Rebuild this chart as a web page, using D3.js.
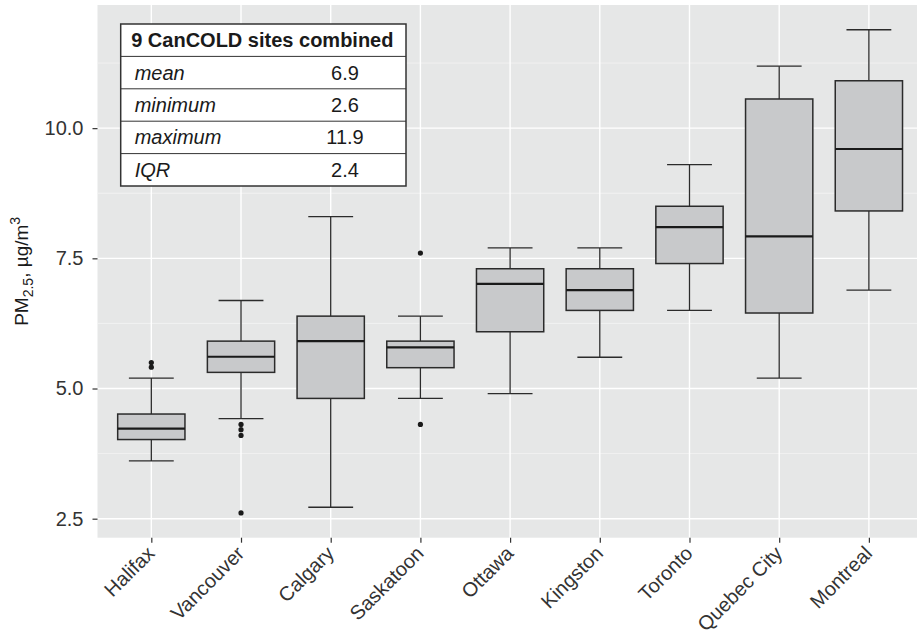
<!DOCTYPE html>
<html lang="en">
<head>
<meta charset="UTF-8">
<title>PM2.5 by CanCOLD site</title>
<script src="https://cdnjs.cloudflare.com/ajax/libs/d3/7.8.5/d3.min.js"></script>
<style>
  body { margin: 0; background: #fff; }
  svg { display: block; font-family: "Liberation Sans", Arial, sans-serif; }
</style>
</head>
<body>
<div id="chart"></div>
<script>
// data
var cities = ["Halifax", "Vancouver", "Calgary", "Saskatoon", "Ottawa", "Kingston", "Toronto", "Quebec City", "Montreal"];
var whiskerLow = [3.61, 4.42, 2.72, 4.81, 4.90, 5.60, 6.50, 5.20, 6.89];
var q1 = [4.02, 5.31, 4.81, 5.40, 6.09, 6.50, 7.40, 6.45, 8.41];
var medians = [4.23, 5.61, 5.91, 5.79, 7.01, 6.89, 8.10, 7.92, 9.60];
var q3 = [4.51, 5.91, 6.39, 5.91, 7.30, 7.30, 8.50, 10.56, 10.91];
var whiskerHigh = [5.20, 6.69, 8.30, 6.39, 7.70, 7.70, 9.30, 11.19, 11.89];
var outliers = [[5.50, 5.41], [4.31, 4.21, 4.10, 2.61], [], [7.60, 4.31], [], [], [], [], []];

var yTicks = [2.5, 5.0, 7.5, 10.0];
var yMinor = [3.75, 6.25, 8.75, 11.25];

var tableTitle = "9 CanCOLD sites combined";
var statNames = ["mean", "minimum", "maximum", "IQR"];
var statValues = ["6.9", "2.6", "11.9", "2.4"];

var W = 917, H = 634;
var panel = { left: 97.5, right: 922.7, top: 5, bottom: 537.7 };
var font = "Liberation Sans, Arial, sans-serif";

var svg = d3.select("#chart").append("svg")
    .attr("width", W)
    .attr("height", H);

var x = d3.scalePoint()
    .domain(cities)
    .range([panel.left, panel.right])
    .padding(0.6);

var y = d3.scaleLinear()
    .domain([2.135, 12.365])
    .range([panel.bottom, panel.top]);

var step = x.step();

// panel background
svg.append("rect")
    .attr("x", panel.left)
    .attr("y", panel.top)
    .attr("width", panel.right - panel.left)
    .attr("height", panel.bottom - panel.top)
    .attr("fill", "#e6e7e7");

// grid lines
svg.selectAll(".minor")
    .data(yMinor)
    .enter().append("line")
    .attr("x1", panel.left).attr("x2", panel.right)
    .attr("y1", function(d) { return y(d); })
    .attr("y2", function(d) { return y(d); })
    .attr("stroke", "#f4f4f4")
    .attr("stroke-width", 0.8);

svg.selectAll(".major")
    .data(yTicks)
    .enter().append("line")
    .attr("x1", panel.left).attr("x2", panel.right)
    .attr("y1", function(d) { return y(d); })
    .attr("y2", function(d) { return y(d); })
    .attr("stroke", "#fff")
    .attr("stroke-width", 1.4);

svg.selectAll(".vgrid")
    .data(cities)
    .enter().append("line")
    .attr("x1", function(d) { return x(d); })
    .attr("x2", function(d) { return x(d); })
    .attr("y1", panel.top).attr("y2", panel.bottom)
    .attr("stroke", "#fff")
    .attr("stroke-width", 1.4);

// axes
var yAxis = d3.axisLeft(y)
    .tickValues(yTicks)
    .tickFormat(d3.format(".1f"))
    .tickSize(5)
    .tickPadding(9);

var gy = svg.append("g")
    .attr("transform", "translate(" + panel.left + ",0)")
    .call(yAxis);
gy.select(".domain").remove();
gy.selectAll(".tick line").attr("stroke", "#333").attr("stroke-width", 1.2);
gy.selectAll(".tick text").attr("font-size", 20).attr("fill", "#333")
    .attr("font-family", font);

var xAxis = d3.axisBottom(x)
    .tickSize(5)
    .tickPadding(4);

var gx = svg.append("g")
    .attr("transform", "translate(0," + panel.bottom + ")")
    .call(xAxis);
gx.select(".domain").remove();
gx.selectAll(".tick line").attr("stroke", "#333").attr("stroke-width", 1.2);
gx.selectAll(".tick text")
    .attr("font-size", 20)
    .attr("fill", "#333")
    .attr("font-family", font)
    .attr("text-anchor", "end")
    .attr("dy", null)
    .attr("y", 0)
    .attr("x", 0)
    .attr("transform", "translate(4,17) rotate(-45)");

// boxplots
var idx = d3.range(cities.length);
var boxW = step * 0.75, capW = step * 0.5;
var ink = "#2b2b2b";

var g = svg.append("g");

// whiskers
g.selectAll(".whisk-lo")
    .data(idx).enter().append("line")
    .attr("x1", function(i) { return x(cities[i]); })
    .attr("x2", function(i) { return x(cities[i]); })
    .attr("y1", function(i) { return y(q1[i]); })
    .attr("y2", function(i) { return y(whiskerLow[i]); })
    .attr("stroke", ink).attr("stroke-width", 1.3);

g.selectAll(".whisk-hi")
    .data(idx).enter().append("line")
    .attr("x1", function(i) { return x(cities[i]); })
    .attr("x2", function(i) { return x(cities[i]); })
    .attr("y1", function(i) { return y(q3[i]); })
    .attr("y2", function(i) { return y(whiskerHigh[i]); })
    .attr("stroke", ink).attr("stroke-width", 1.3);

// caps
[whiskerLow, whiskerHigh].forEach(function(arr) {
    g.selectAll(null)
        .data(idx).enter().append("line")
        .attr("x1", function(i) { return x(cities[i]) - capW / 2; })
        .attr("x2", function(i) { return x(cities[i]) + capW / 2; })
        .attr("y1", function(i) { return y(arr[i]); })
        .attr("y2", function(i) { return y(arr[i]); })
        .attr("stroke", ink).attr("stroke-width", 1.3);
});

// boxes
g.selectAll(".box")
    .data(idx).enter().append("rect")
    .attr("x", function(i) { return x(cities[i]) - boxW / 2; })
    .attr("width", boxW)
    .attr("y", function(i) { return y(q3[i]); })
    .attr("height", function(i) { return y(q1[i]) - y(q3[i]); })
    .attr("fill", "#c8c9cb")
    .attr("stroke", ink)
    .attr("stroke-width", 1.5);

// medians
g.selectAll(".median")
    .data(idx).enter().append("line")
    .attr("x1", function(i) { return x(cities[i]) - boxW / 2; })
    .attr("x2", function(i) { return x(cities[i]) + boxW / 2; })
    .attr("y1", function(i) { return y(medians[i]); })
    .attr("y2", function(i) { return y(medians[i]); })
    .attr("stroke", "#1a1a1a").attr("stroke-width", 2.2);

// outliers
var pts = [];
outliers.forEach(function(list, i) {
    list.forEach(function(v) { pts.push({ city: cities[i], v: v }); });
});
g.selectAll(".outlier")
    .data(pts).enter().append("circle")
    .attr("cx", function(d) { return x(d.city); })
    .attr("cy", function(d) { return y(d.v); })
    .attr("r", 2.6)
    .attr("fill", "#1a1a1a");

// y axis title
var title = svg.append("text")
    .attr("transform", "translate(28," + ((panel.top + panel.bottom) / 2) + ") rotate(-90)")
    .attr("text-anchor", "middle")
    .attr("font-size", 19)
    .attr("fill", "#1a1a1a");
title.append("tspan").text("PM");
title.append("tspan").attr("font-size", 14).attr("dy", 5).text("2.5");
title.append("tspan").attr("dy", -5).text(", \u00b5g/m");
title.append("tspan").attr("font-size", 14).attr("dy", -8).text("3");

// summary table
var tbl = { x: 120.7, y: 24, w: 285.3, rowH: 32.4 };
var tg = svg.append("g");
var nRows = statNames.length + 1;

tg.append("rect")
    .attr("x", tbl.x).attr("y", tbl.y)
    .attr("width", tbl.w).attr("height", tbl.rowH * nRows)
    .attr("fill", "#fff")
    .attr("stroke", "#333")
    .attr("stroke-width", 1.5);

tg.selectAll(".row-line")
    .data(d3.range(1, nRows)).enter().append("line")
    .attr("x1", tbl.x).attr("x2", tbl.x + tbl.w)
    .attr("y1", function(r) { return tbl.y + r * tbl.rowH; })
    .attr("y2", function(r) { return tbl.y + r * tbl.rowH; })
    .attr("stroke", "#333").attr("stroke-width", 1);

tg.append("text")
    .attr("x", tbl.x + 10.5)
    .attr("y", tbl.y + tbl.rowH / 2)
    .attr("dy", "0.35em")
    .attr("font-size", 20)
    .attr("font-weight", "bold")
    .attr("fill", "#1a1a1a")
    .text(tableTitle);

tg.selectAll(".stat-name")
    .data(statNames).enter().append("text")
    .attr("x", tbl.x + 14)
    .attr("y", function(d, i) { return tbl.y + (i + 1.5) * tbl.rowH; })
    .attr("dy", "0.35em")
    .attr("font-size", 20)
    .attr("font-style", "italic")
    .attr("fill", "#1a1a1a")
    .text(function(d) { return d; });

tg.selectAll(".stat-val")
    .data(statValues).enter().append("text")
    .attr("x", tbl.x + 224.3)
    .attr("y", function(d, i) { return tbl.y + (i + 1.5) * tbl.rowH; })
    .attr("dy", "0.35em")
    .attr("text-anchor", "middle")
    .attr("font-size", 20)
    .attr("fill", "#1a1a1a")
    .text(function(d) { return d; });
</script>
</body>
</html>
